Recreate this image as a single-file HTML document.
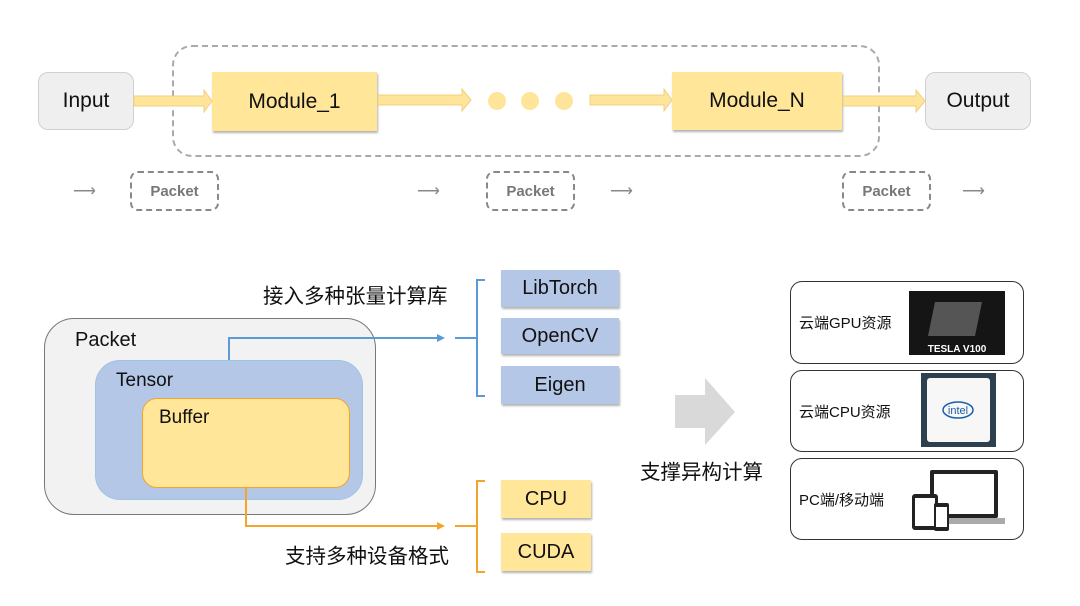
<!DOCTYPE html>
<html><head><meta charset="utf-8"><style>
body{margin:0;width:1080px;height:606px;background:#fff;position:relative;overflow:hidden;font-family:"Liberation Sans","Noto Sans CJK SC",sans-serif;color:#111}
.a{position:absolute;box-sizing:border-box}
.c{display:flex;align-items:center;justify-content:center}
.y{background:#ffe699;box-shadow:1px 2px 2px rgba(0,0,0,.3)}
.b{background:#b4c7e7;box-shadow:1px 2px 2px rgba(0,0,0,.3)}
.pk{border:2px dashed #888;border-radius:8px;color:#777;font-weight:bold;font-size:15px}
.sm{color:#888;font-size:16px}
.rb{border:1.5px solid #333;border-radius:12px;background:#fff;font-size:15px;padding-left:8px;align-items:center;display:flex}
</style></head><body>
<div class="a" style="left:172px;top:45px;width:708px;height:112px;border:2px dashed #aaa;border-radius:20px"></div>
<div class="a c" style="left:38px;top:72px;width:96px;height:58px;background:#efefef;border:1px solid #d0d0d0;border-radius:10px;font-size:21px">Input</div>
<div class="a c" style="left:925px;top:72px;width:106px;height:58px;background:#efefef;border:1px solid #d0d0d0;border-radius:10px;font-size:21px">Output</div>
<div class="a c y" style="left:212px;top:72px;width:165px;height:59px;font-size:21px">Module_1</div>
<div class="a c y" style="left:672px;top:72px;width:170px;height:58px;font-size:21px">Module_N</div>
<div class="a sm" style="left:73px;top:181px">⟶</div>
<div class="a sm" style="left:417px;top:181px">⟶</div>
<div class="a sm" style="left:610px;top:181px">⟶</div>
<div class="a sm" style="left:962px;top:181px">⟶</div>
<div class="a c pk" style="left:130px;top:171px;width:89px;height:40px">Packet</div>
<div class="a c pk" style="left:486px;top:171px;width:89px;height:40px">Packet</div>
<div class="a c pk" style="left:842px;top:171px;width:89px;height:40px">Packet</div>
<div class="a" style="left:44px;top:318px;width:332px;height:197px;background:#f2f2f2;border:1.5px solid #777;border-radius:30px;font-size:20px;padding:10px 0 0 30px">Packet</div>
<div class="a" style="left:95px;top:360px;width:268px;height:140px;background:#b4c7e7;border:1.5px solid #9dc3e6;border-radius:25px;font-size:19px;padding:9px 0 0 20px">Tensor</div>
<div class="a" style="left:142px;top:398px;width:208px;height:90px;background:#ffe699;border:1.5px solid #f4a42a;border-radius:15px;font-size:19px;padding:8px 0 0 16px">Buffer</div>
<div class="a" style="left:263px;top:279px;font-size:20.5px">接入多种张量计算库</div>
<div class="a" style="left:285px;top:539px;font-size:20.5px">支持多种设备格式</div>
<div class="a" style="left:640px;top:455px;font-size:20.5px">支撑异构计算</div>
<div class="a c b" style="left:501px;top:270px;width:118px;height:37px;font-size:20px">LibTorch</div>
<div class="a c b" style="left:501px;top:318px;width:118px;height:36px;font-size:20px">OpenCV</div>
<div class="a c b" style="left:501px;top:366px;width:118px;height:38px;font-size:20px">Eigen</div>
<div class="a c y" style="left:501px;top:480px;width:90px;height:38px;font-size:20px">CPU</div>
<div class="a c y" style="left:501px;top:533px;width:90px;height:38px;font-size:20px">CUDA</div>
<div class="a rb" style="left:790px;top:281px;width:234px;height:83px">云端GPU资源</div>
<div class="a rb" style="left:790px;top:370px;width:234px;height:82px">云端CPU资源</div>
<div class="a rb" style="left:790px;top:458px;width:234px;height:82px">PC端/移动端</div>
<svg class="a" style="left:0;top:0;z-index:1" width="1080" height="606">
<g fill="#ffe599" stroke="#f0d080" stroke-width="1">
<polygon points="134,96 204,96 204,90 212,101 204,112 204,106 134,106"/>
<polygon points="378,95 462,95 462,89 471,100 462,111 462,105 378,105"/>
<polygon points="590,95 664,95 664,89 672,100 664,111 664,105 590,105"/>
<polygon points="843,96 916,96 916,90 925,101 916,112 916,106 843,106"/>
</g>
<g fill="#ffe599"><circle cx="497" cy="101" r="9"/><circle cx="530" cy="101" r="9"/><circle cx="564" cy="101" r="9"/></g>
<polygon points="675,395 705,395 705,378 735,412 705,445 705,428 675,428" fill="#d9d9d9"/>
<g fill="none" stroke="#5b9bd5" stroke-width="2">
<polyline points="229,360 229,338 438,338"/><polyline points="455,338 476,338"/><polyline points="485,280 477,280 477,396 485,396"/></g>
<polygon points="437,334 445,338 437,342" fill="#5b9bd5"/>
<g fill="none" stroke="#f4a42a" stroke-width="2">
<polyline points="246,488 246,526 438,526"/><polyline points="455,526 476,526"/><polyline points="485,481 477,481 477,572 485,572"/></g>
<polygon points="437,522 445,526 437,530" fill="#f4a42a"/>
<rect x="909" y="291" width="96" height="64" fill="#151515"/>
<polygon points="935,302 982,302 975,336 928,336" fill="#555"/>
<text x="957" y="352" fill="#fff" font-size="10" font-weight="bold" text-anchor="middle" font-family="Liberation Sans">TESLA V100</text>
<rect x="921" y="373" width="75" height="74" fill="#2d4050"/>
<rect x="927" y="378" width="63" height="64" rx="3" fill="#f7f7f7"/>
<ellipse cx="958" cy="410" rx="15" ry="8" fill="none" stroke="#1a5ea8" stroke-width="1.5"/>
<text x="958" y="414" fill="#1a5ea8" font-size="11" text-anchor="middle" font-family="Liberation Sans">intel</text>
<rect x="930" y="470" width="68" height="48" rx="2" fill="#222"/><rect x="934" y="474" width="60" height="40" fill="#fff"/>
<rect x="925" y="518" width="80" height="6" fill="#aaa"/>
<rect x="912" y="494" width="26" height="36" rx="3" fill="#222"/><rect x="915" y="498" width="20" height="28" fill="#fff"/>
<rect x="934" y="503" width="15" height="28" rx="2" fill="#222"/><rect x="936" y="507" width="11" height="20" fill="#fff"/>
</svg>
</body></html>
